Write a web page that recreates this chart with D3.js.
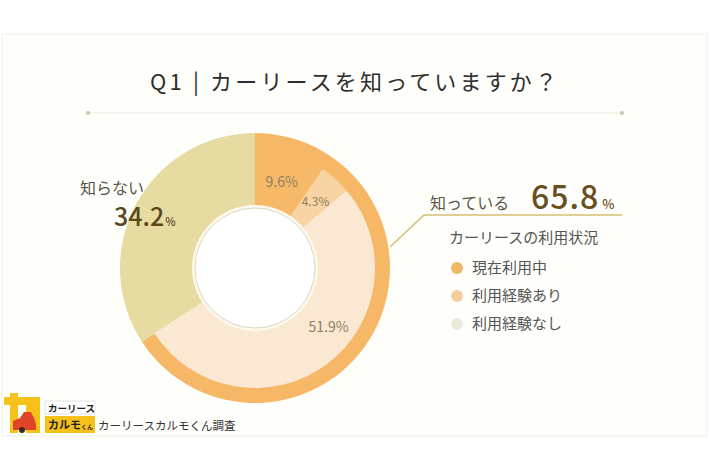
<!DOCTYPE html>
<html lang="ja">

<head>
	<meta charset="utf-8">
	<title>Q1 カーリースを知っていますか？</title>
	<script src="https://d3js.org/d3.v7.min.js"></script>
	<style type="text/css">
		body { margin: 0; background: #ffffff; }
		svg { display: block; font-family: "Noto Sans CJK JP", "Noto Sans", sans-serif; }
	</style>
</head>

<body>
	<script type="text/javascript">
		// datos
		var outerCats = ["知っている", "知らない"];
		var outerVals = [65.8, 34.2];
		var innerCats = ["現在利用中", "利用経験あり", "利用経験なし"];
		var innerVals = [9.6, 4.3, 51.9];
		var legendTitle = "カーリースの利用状況";
		var title = "Q1 | カーリースを知っていますか？";

		var w = 710;
		var h = 474;
		var cx = 255, cy = 268;

		var outerColor = d3.scaleOrdinal().domain(outerCats).range(["#F6B866", "#E6DCA1"]);
		var innerColor = d3.scaleOrdinal().domain(innerCats).range(["#F6B968", "#F8D3A4", "#FBE8D3"]);
		var dotColor = d3.scaleOrdinal().domain(innerCats).range(["#F2B766", "#F6CE9C", "#ECE8DA"]);

		var svg = d3.select("body").append("svg")
			.attr("width", w)
			.attr("height", h);

		// panel de fondo
		svg.append("rect")
			.attr("x", 2).attr("y", 34)
			.attr("width", 705).attr("height", 402)
			.attr("fill", "#fefefa")
			.attr("stroke", "#f2f0e4");

		// titulo
		svg.append("text")
			.attr("x", 150).attr("y", 90)
			.attr("textLength", 407)
			.attr("lengthAdjust", "spacing")
			.attr("font-size", 22)
			.attr("fill", "#2e2e2e")
			.text(title);

		svg.append("line")
			.attr("x1", 88).attr("x2", 622)
			.attr("y1", 113).attr("y2", 113)
			.attr("stroke", "#ebe9dc");
		svg.selectAll("circle.tdot")
			.data([88, 622])
			.enter().append("circle")
			.attr("class", "tdot")
			.attr("cx", function (d) { return d; })
			.attr("cy", 113)
			.attr("r", 2)
			.attr("fill", "#c9c6ad");

		var g = svg.append("g")
			.attr("transform", "translate(" + cx + "," + cy + ")");

		// anillo exterior: conoce / no conoce
		var pieOuter = d3.pie().sort(null).value(function (d) { return d; });
		var arcOuter = d3.arc()
			.innerRadius(function (d) { return d.index === 0 ? 119 : 60; })
			.outerRadius(135);

		g.selectAll("path.outer")
			.data(pieOuter(outerVals))
			.enter().append("path")
			.attr("class", "outer")
			.attr("fill", function (d, i) { return outerColor(outerCats[i]); })
			.attr("d", arcOuter);

		// anillo interior: uso de la carlease (dentro del 65.8%)
		var knownEnd = 2 * Math.PI * outerVals[0] / d3.sum(outerVals);
		var pieInner = d3.pie().sort(null)
			.startAngle(0)
			.endAngle(knownEnd)
			.value(function (d) { return d; });
		var arcInner = d3.arc().innerRadius(60).outerRadius(120);
		var innerArcs = pieInner(innerVals);

		g.selectAll("path.inner")
			.data(innerArcs)
			.enter().append("path")
			.attr("class", "inner")
			.attr("fill", function (d, i) { return innerColor(innerCats[i]); })
			.attr("d", arcInner);

		// agujero central
		g.append("circle").attr("r", 63).attr("fill", "#fdf8ec");
		g.append("circle").attr("r", 60)
			.attr("fill", "#ffffff")
			.attr("stroke", "#dcd6c2")
			.attr("stroke-width", 1);

		// etiquetas de porcentaje
		var labelFrac = [0.5, 0.5, 0.42];
		var labelR = [90, 90, 94];
		g.selectAll("text.pct")
			.data(innerArcs)
			.enter().append("text")
			.attr("class", "pct")
			.attr("x", function (d, i) {
				var a = d.startAngle + labelFrac[i] * (d.endAngle - d.startAngle);
				return labelR[i] * Math.sin(a);
			})
			.attr("y", function (d, i) {
				var a = d.startAngle + labelFrac[i] * (d.endAngle - d.startAngle);
				return -labelR[i] * Math.cos(a) + 5;
			})
			.attr("text-anchor", "middle")
			.attr("font-size", function (d, i) { return i === 1 ? 12 : 14; })
			.attr("fill", "#8f7f62")
			.text(function (d) { return d.data + "%"; });

		// etiqueta "知らない"
		svg.append("text")
			.attr("x", 80).attr("y", 194)
			.attr("font-size", 16)
			.attr("fill", "#5b5548")
			.text(outerCats[1]);
		var t2 = svg.append("text")
			.attr("x", 114).attr("y", 226)
			.attr("fill", "#5a481a")
			.attr("font-weight", 500);
		t2.append("tspan").attr("font-size", 25).text(outerVals[1].toFixed(1));
		t2.append("tspan").attr("font-size", 11).attr("dx", 1).text("%");

		// linea guia hacia "知っている"
		svg.append("polyline")
			.attr("points", "390,247 424,215 622,215")
			.attr("fill", "none")
			.attr("stroke", "#D3C173")
			.attr("stroke-width", 1.6);

		svg.append("text")
			.attr("x", 430).attr("y", 209)
			.attr("font-size", 16)
			.attr("fill", "#5b5548")
			.text(outerCats[0]);
		var t1 = svg.append("text")
			.attr("x", 531).attr("y", 209)
			.attr("fill", "#684f1e")
			.attr("font-weight", 500);
		t1.append("tspan").attr("font-size", 32).attr("letter-spacing", 1).text(outerVals[0].toFixed(1));
		t1.append("tspan").attr("font-size", 13).attr("dx", 3).text("%");

		// leyenda
		svg.append("text")
			.attr("x", 449).attr("y", 243)
			.attr("font-size", 15)
			.attr("fill", "#555")
			.text(legendTitle);

		var legend = svg.selectAll("g.legend")
			.data(innerCats)
			.enter().append("g")
			.attr("class", "legend")
			.attr("transform", function (d, i) { return "translate(457," + (268 + i * 28) + ")"; });
		legend.append("circle")
			.attr("r", 6)
			.attr("fill", function (d) { return dotColor(d); });
		legend.append("text")
			.attr("x", 15).attr("y", 5)
			.attr("font-size", 15)
			.attr("fill", "#555")
			.text(function (d) { return d; });

		// logotipo
		var logo = svg.append("g");
		logo.append("rect").attr("x", 4).attr("y", 397).attr("width", 36).attr("height", 8).attr("fill", "#F5C11A");
		logo.append("rect").attr("x", 10).attr("y", 393).attr("width", 8).attr("height", 40).attr("fill", "#F5C11A");
		logo.append("rect").attr("x", 26).attr("y", 401).attr("width", 14).attr("height", 32).attr("fill", "#F5C11A");
		logo.append("path").attr("d", "M13,430 L13,421 L20,418 L24,412 L31,412 L34,418 L36,424 L36,430 Z").attr("fill", "#E0452C");
		logo.append("circle").attr("cx", 22).attr("cy", 430).attr("r", 3).attr("fill", "#3a2a22");
		logo.append("rect").attr("x", 45).attr("y", 401).attr("width", 50).attr("height", 13)
			.attr("fill", "#fff").attr("stroke", "#e2e2e2");
		logo.append("text").attr("x", 48).attr("y", 411.5).attr("font-size", 9.5).attr("font-weight", "bold")
			.attr("fill", "#222").text("カーリース");
		logo.append("rect").attr("x", 45).attr("y", 416).attr("width", 50).attr("height", 17).attr("fill", "#F5C11A");
		var km = logo.append("text").attr("x", 48).attr("y", 429).attr("fill", "#222").attr("font-weight", "bold");
		km.append("tspan").attr("font-size", 11).text("カルモ");
		km.append("tspan").attr("font-size", 6).text("くん");
		logo.append("text").attr("x", 98).attr("y", 430).attr("font-size", 11.5)
			.attr("fill", "#333").text("カーリースカルモくん調査");
	</script>
</body>

</html>
